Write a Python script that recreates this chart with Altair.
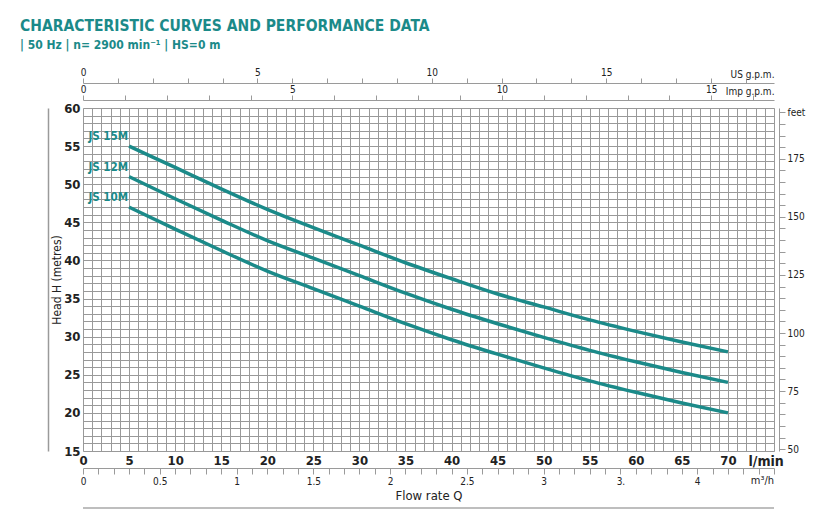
import altair as alt
import pandas as pd

# ---- data ----
flow_lpm = [5, 10, 15, 20, 25, 30, 35, 40, 45, 50, 55, 60, 65, 70]
js15m = [55.0, 52.2, 49.4, 46.7, 44.3, 42.0, 39.7, 37.6, 35.6, 33.9, 32.2, 30.7, 29.3, 28.0]
js12m = [51.0, 48.1, 45.3, 42.6, 40.3, 38.0, 35.7, 33.6, 31.7, 29.9, 28.2, 26.7, 25.3, 24.0]
js10m = [47.0, 44.1, 41.3, 38.6, 36.3, 34.0, 31.7, 29.6, 27.7, 25.9, 24.2, 22.7, 21.3, 20.0]
models = ["JS 15M", "JS 12M", "JS 10M"]

x_ticks = list(range(0, 76))
y_ticks = list(range(15, 61))
m3h_ticks = [round(i * 0.1, 1) for i in range(0, 46)]
us_ticks = list(range(0, 20))
imp_ticks = list(range(0, 17))
ft_ticks = list(range(50, 200, 5))

rows = []
for name, vals in zip(models, [js15m, js12m, js10m]):
    for q, h in zip(flow_lpm, vals):
        rows.append({"model": name, "q": q, "head": h})
df = pd.DataFrame(rows)
start_df = df[df["q"] == flow_lpm[0]]

# ---- constants ----
W, H = 691, 343
Q_MAX = 75
H_MIN, H_MAX = 15, 60
M3H = 60 / 1000
US = 3.785411784
IMP = 4.54609
FT = 3.28084

FONT = "Liberation Sans Narrow, DejaVu Sans Condensed, sans-serif"
TEAL = "#1b8a89"
GRID = "#999999"
AXC = "#9a9a9a"
TXT = "#222222"

xq = alt.Scale(domain=[0, Q_MAX], nice=False, zero=False)
yh = alt.Scale(domain=[H_MIN, H_MAX], nice=False, zero=False)

base = alt.Chart(df)

curves = base.mark_line(color=TEAL, strokeWidth=3.5, interpolate="monotone").encode(
    x=alt.X("q:Q", scale=xq, axis=alt.Axis(
        values=x_ticks, labelExpr="datum.value % 5 == 0 && datum.value <= 70 ? datum.value : ''",
        ticks=False, domain=False, grid=True, gridColor=GRID, gridWidth=1, gridOpacity=1,
        labelFont=FONT, labelFontSize=13, labelFontWeight="bold", labelColor=TXT,
        labelPadding=3, labelFlush=False, labelOverlap=False,
        title="l/min", titleX=665, titleY=10, titleAlign="left", titleBaseline="middle",
        titleFont=FONT, titleFontSize=14, titleFontWeight="bold", titleColor=TXT)),
    y=alt.Y("head:Q", scale=yh, axis=alt.Axis(
        values=y_ticks, labelExpr="datum.value % 5 == 0 ? datum.value : ''",
        ticks=False, domain=False, grid=True, gridColor=GRID, gridWidth=1, gridOpacity=1,
        labelFont=FONT, labelFontSize=13, labelFontWeight="bold", labelColor=TXT,
        labelPadding=3, labelFlush=False, labelOverlap=False,
        title="Head H (metres)", titleFont=FONT, titleFontSize=12, titleFontWeight="normal",
        titleColor=TXT, titlePadding=0)),
    detail="model:N",
)

labels = alt.Chart(start_df).mark_text(
    align="right", baseline="middle", dy=-9, dx=-1, font=FONT, fontSize=11.5, fontWeight="bold", color=TEAL
).encode(
    x=alt.X("q:Q", scale=xq, axis=None),
    y=alt.Y("head:Q", scale=yh, axis=None),
    text="model:N",
)

# m3/h axis at the bottom
m3h_layer = base.mark_point(opacity=0).transform_calculate(m3h=f"datum.q * {M3H}").encode(
    x=alt.X("m3h:Q", scale=alt.Scale(domain=[0, Q_MAX * M3H], nice=False, zero=False), axis=alt.Axis(
        orient="bottom", offset=17, values=m3h_ticks,
        labelExpr="abs(datum.value*2 - round(datum.value*2)) < 0.001 && datum.value < 4.2 ? (abs(datum.value-3.5) < 0.001 ? '3.' : format(datum.value, '~g')) : ''",
        grid=False, domain=True, domainColor=AXC, tickColor=AXC, tickSize=6,
        labelFont=FONT, labelFontSize=10, labelColor=TXT, labelPadding=2,
        labelFlush=False, labelOverlap=False,
        title="Flow rate Q", titleFont=FONT, titleFontSize=13, titleFontWeight="normal",
        titleColor=TXT, titlePadding=3)),
    y=alt.Y("head:Q", scale=yh, axis=None),
)

# US g.p.m. axis at the top
us_layer = base.mark_point(opacity=0).transform_calculate(us=f"datum.q / {US}").encode(
    x=alt.X("us:Q", scale=alt.Scale(domain=[0, Q_MAX / US], nice=False, zero=False), axis=alt.Axis(
        orient="top", offset=25, values=us_ticks,
        labelExpr="datum.value % 5 == 0 ? datum.value : ''",
        grid=False, domain=True, domainColor=AXC, tickColor=AXC, tickSize=5,
        labelFont=FONT, labelFontSize=10, labelColor=TXT, labelPadding=1,
        labelFlush=False, labelOverlap=False,
        title="US g.p.m.", titleX=691, titleY=-9, titleAlign="right", titleBaseline="middle",
        titleFont=FONT, titleFontSize=10, titleFontWeight="normal", titleColor=TXT)),
    y=alt.Y("head:Q", scale=yh, axis=None),
)

# Imp g.p.m. axis at the top
imp_layer = base.mark_point(opacity=0).transform_calculate(imp=f"datum.q / {IMP}").encode(
    x=alt.X("imp:Q", scale=alt.Scale(domain=[0, Q_MAX / IMP], nice=False, zero=False), axis=alt.Axis(
        orient="top", offset=8, values=imp_ticks,
        labelExpr="datum.value % 5 == 0 ? datum.value : ''",
        grid=False, domain=True, domainColor=AXC, tickColor=AXC, tickSize=5,
        labelFont=FONT, labelFontSize=10, labelColor=TXT, labelPadding=1,
        labelFlush=False, labelOverlap=False,
        title="Imp g.p.m.", titleX=691, titleY=-9, titleAlign="right", titleBaseline="middle",
        titleFont=FONT, titleFontSize=10, titleFontWeight="normal", titleColor=TXT)),
    y=alt.Y("head:Q", scale=yh, axis=None),
)

# feet axis on the right
ft_layer = base.mark_point(opacity=0).transform_calculate(ft=f"datum.head * {FT}").encode(
    x=alt.X("q:Q", scale=xq, axis=None),
    y=alt.Y("ft:Q", scale=alt.Scale(domain=[H_MIN * FT, H_MAX * FT], nice=False, zero=False), axis=alt.Axis(
        orient="right", offset=5, values=ft_ticks,
        labelExpr="datum.value == 195 ? 'feet' : (datum.value % 25 == 0 ? datum.value : '')",
        grid=False, domain=True, domainColor=AXC, tickColor=AXC, tickSize=6,
        labelFont=FONT, labelFontSize=10, labelColor=TXT, labelPadding=2,
        labelFlush=False, labelOverlap=False, title=None)),
)

# plain line on the far left
left_line = base.mark_point(opacity=0).encode(
    x=alt.X("q:Q", scale=xq, axis=None),
    y=alt.Y("head:Q", scale=yh, axis=alt.Axis(
        orient="left", offset=35, labels=False, ticks=False, grid=False,
        domain=True, domainColor=AXC, domainWidth=1.5, title=None)),
)

unit_df = pd.DataFrame({"u": ["m³/h"]})
m3h_unit = alt.Chart(unit_df).mark_text(
    align="right", baseline="middle", font=FONT, fontSize=11, color=TXT
).encode(text="u:N", x=alt.value(W), y=alt.value(H + 30))

bottom_rule = alt.Chart(unit_df).mark_rule(color="#a8a8a8", strokeWidth=1.5).encode(
    x=alt.value(0), x2=alt.value(W), y=alt.value(H + 57)
)

chart = alt.layer(
    curves, labels, m3h_layer, us_layer, imp_layer, ft_layer, left_line, m3h_unit, bottom_rule
).resolve_scale(
    x="independent", y="independent"
).properties(
    width=W, height=H,
    autosize=alt.AutoSizeParams(type="none"),
    padding={"left": 75, "top": 100, "right": 45, "bottom": 60},
    title=alt.TitleParams(
        text="CHARACTERISTIC CURVES AND PERFORMANCE DATA",
        subtitle="| 50 Hz | n= 2900 min⁻¹ | HS=0 m",
        anchor="start", frame="group", dx=-63, dy=-6,
        font=FONT, fontSize=15.5, fontWeight="bold", color=TEAL,
        subtitleFont=FONT, subtitleFontSize=12, subtitleFontWeight="bold",
        subtitleColor=TEAL, subtitlePadding=6, offset=10,
    ),
).configure_view(
    stroke="#9a9a9a", strokeWidth=3
).configure(background="white")

chart.save("out.html", embed_options={"renderer": "svg", "actions": False})
